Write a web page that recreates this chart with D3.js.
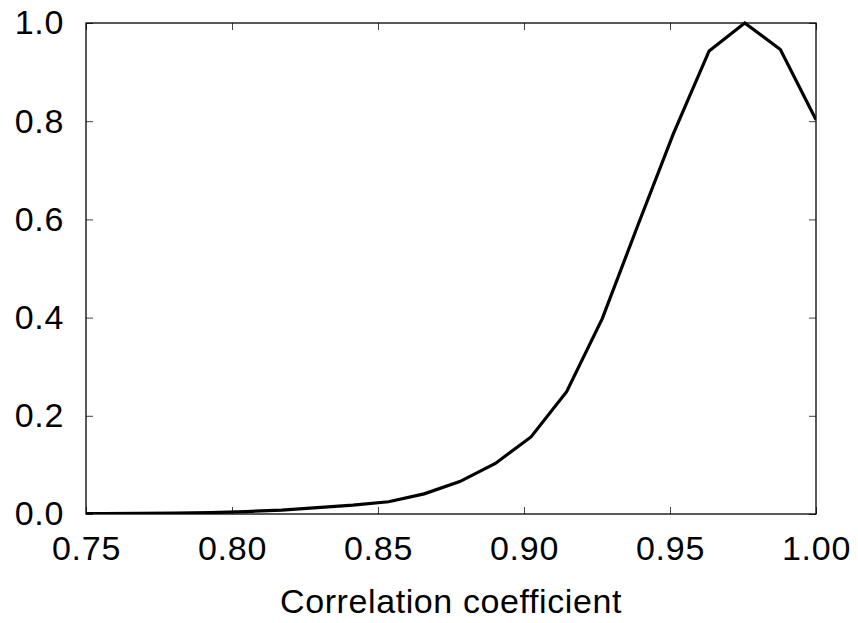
<!DOCTYPE html>
<html>
<head>
<meta charset="utf-8">
<script src="https://cdn.jsdelivr.net/npm/d3@7"></script>
<style>
  body { margin: 0; background: #fff; }
  text { font-family: "Liberation Sans", Arial, sans-serif; fill: #000; }
</style>
</head>
<body>
<div id="chart"></div>
<script>
// correlation bins (step ~1/82) and normalised counts
var corr = [1.0, 0.9878, 0.9756, 0.9634, 0.9512, 0.9390, 0.9268, 0.9146, 0.9024, 0.8902,
            0.8780, 0.8658, 0.8536, 0.8414, 0.8292, 0.8170, 0.8048, 0.7926, 0.7804, 0.7682,
            0.7560, 0.7438];
var freq = [0.803, 0.946, 1.0, 0.943, 0.775, 0.588, 0.398, 0.249, 0.157, 0.103,
            0.066, 0.041, 0.025, 0.018, 0.013, 0.008, 0.005, 0.003, 0.002, 0.0015,
            0.001, 0.001];
var xTicks = [0.75, 0.80, 0.85, 0.90, 0.95, 1.00];
var yTicks = [0.0, 0.2, 0.4, 0.6, 0.8, 1.0];

var W = 858, H = 623;
var margin = { top: 23, right: 42, bottom: 109, left: 86 };
var width = W - margin.left - margin.right;
var height = H - margin.top - margin.bottom;

var svg = d3.select("#chart")
    .append("svg")
    .attr("width", W)
    .attr("height", H)
    .append("g")
    .attr("transform", "translate(" + margin.left + "," + margin.top + ")");

var x = d3.scaleLinear().domain([0.75, 1.0]).range([0, width]);
var y = d3.scaleLinear().domain([0, 1]).range([height, 0]);

svg.append("clipPath").attr("id", "clip")
    .append("rect").attr("width", width).attr("height", height + 4).attr("y", -4);

// inward ticks on all four sides
var tk = 7;
function tickStyle(g) {
  g.select(".domain").remove();
  g.selectAll(".tick line").attr("stroke", "#444").attr("stroke-width", 1);
}
svg.append("g")
    .attr("transform", "translate(0," + height + ")")
    .call(d3.axisBottom(x).tickValues(xTicks).tickSize(-tk).tickPadding(tk + 15).tickFormat(d3.format(".2f")))
    .call(tickStyle)
    .selectAll("text").attr("font-size", 34).attr("letter-spacing", "0.7px");
svg.append("g")
    .call(d3.axisTop(x).tickValues(xTicks).tickSize(-tk).tickFormat(""))
    .call(tickStyle);
svg.append("g")
    .call(d3.axisLeft(y).tickValues(yTicks).tickSize(-tk).tickPadding(tk + 15).tickFormat(d3.format(".1f")))
    .call(tickStyle)
    .selectAll("text").attr("font-size", 34).attr("letter-spacing", "0.7px");
svg.append("g")
    .attr("transform", "translate(" + width + ",0)")
    .call(d3.axisRight(y).tickValues(yTicks).tickSize(-tk).tickFormat(""))
    .call(tickStyle);

// frame
svg.append("rect")
    .attr("width", width)
    .attr("height", height)
    .attr("fill", "none")
    .attr("stroke", "#000")
    .attr("stroke-width", 1.3);

var data = corr.map(function(c, i) { return { c: c, f: freq[i] }; });

svg.append("path")
    .datum(data)
    .attr("clip-path", "url(#clip)")
    .attr("fill", "none")
    .attr("stroke", "#000")
    .attr("stroke-width", 3.2)
    .attr("stroke-linejoin", "miter")
    .attr("d", d3.line()
      .x(function(d) { return x(d.c); })
      .y(function(d) { return y(d.f); }));

svg.append("text")
    .attr("x", width / 2)
    .attr("y", height + 99)
    .attr("text-anchor", "middle")
    .attr("font-size", 34)
    .attr("letter-spacing", "0.6px")
    .text("Correlation coefficient");
</script>
</body>
</html>
